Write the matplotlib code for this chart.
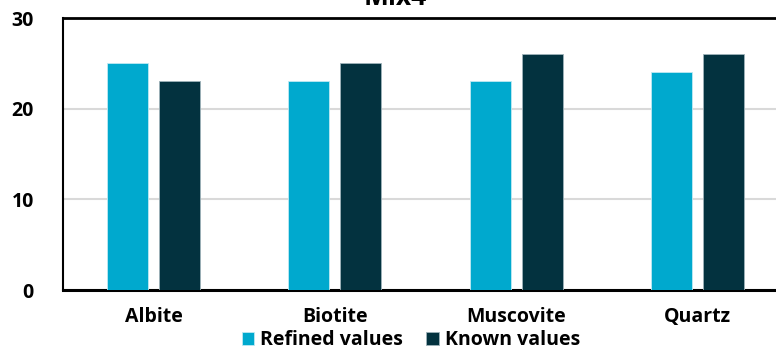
import numpy as np
import matplotlib.pyplot as plt

minerals = ["Albite", "Biotite", "Muscovite", "Quartz"]
refined = [25, 23, 23, 24]
known = [23, 25, 26, 26]
yticks = [0, 10, 20, 30]

plt.rcParams['font.family'] = ['Open Sans', 'DejaVu Sans']
plt.rcParams['font.weight'] = 'bold'

fig = plt.figure(figsize=(7.76, 3.49), dpi=100)
ax = fig.add_axes([63 / 776, 1 - 290 / 349, 725 / 776, 272 / 349])

x = np.arange(len(minerals))
w = 0.226
ax.bar(x - 0.143, refined, w, color="#00A9CE", edgecolor="#BFE9F2", linewidth=0.6,
       label="Refined values", zorder=3)
ax.bar(x + 0.143, known, w, color="#03323F", edgecolor="#9FB3BA", linewidth=0.6,
       label="Known values", zorder=3)

ax.set_xlim(-0.5, len(minerals) - 0.5)
ax.set_ylim(0, 30)
ax.set_yticks(yticks)
ax.set_yticklabels([str(t) for t in yticks], fontsize=14, fontweight='bold')
ax.set_xticks(x)
ax.set_xticklabels(minerals, fontsize=14, fontweight='bold')
ax.tick_params(axis='both', length=0)
ax.tick_params(axis='y', pad=21)
ax.tick_params(axis='x', pad=12)

ax.grid(axis='y', color="#D9D9D9", linewidth=1.5, zorder=0)
ax.spines['left'].set_linewidth(1.5)
ax.spines['bottom'].set_linewidth(2.2)
ax.spines['top'].set_linewidth(2.0)
ax.spines['right'].set_visible(False)

fig.text(395 / 776, 1 - 5 / 349, "Mix4", ha='center', va='baseline',
         fontsize=19, fontweight='bold')

ax.legend(loc='lower center', bbox_to_anchor=(411 / 776, -0.036),
          bbox_transform=fig.transFigure, ncol=2, frameon=False,
          prop={'weight': 'bold', 'size': 14},
          handlelength=0.65, handleheight=0.65, handletextpad=0.3,
          columnspacing=1.2, borderpad=0.1)

fig.savefig("out.png", dpi=100)
